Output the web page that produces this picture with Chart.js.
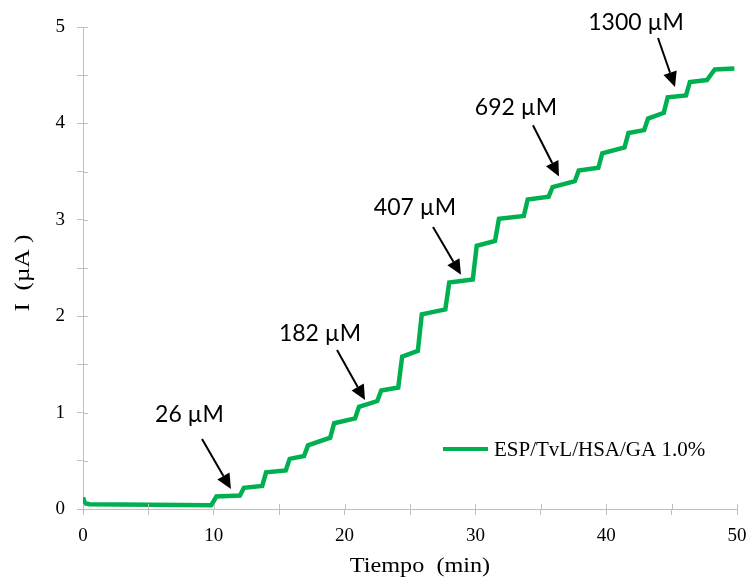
<!DOCTYPE html>
<html>
<head>
<meta charset="utf-8">
<script src="https://cdn.jsdelivr.net/npm/chart.js@4.4.1/dist/chart.umd.min.js"></script>
<style>
  html, body { margin: 0; padding: 0; background: #fff; }
  #wrap { width: 754px; height: 578px; }
</style>
</head>
<body>
<div id="wrap"><canvas id="myChart" width="754" height="578"></canvas></div>
<script>
/* data */
const seriesName = 'ESP/TvL/HSA/GA 1.0%';
const xTitle = 'Tiempo  (min)';
const yTitle = 'I  (µA )';
const timeMin = [0, 0.15, 0.5, 9.8, 10.2, 12.0, 12.3, 13.7, 14.0, 15.5, 15.8, 16.9, 17.2, 18.9, 19.2,
    20.8, 21.1, 22.5, 22.8, 24.1, 24.4, 25.6, 25.9, 27.7, 28.0, 29.8, 30.1, 31.5, 31.8, 33.7, 34.0,
    35.6, 35.9, 37.6, 37.9, 39.4, 39.7, 41.4, 41.7, 42.9, 43.2, 44.4, 44.7, 46.1, 46.4, 47.7, 48.3, 49.8];
const currentUA = [0.12, 0.06, 0.05, 0.04, 0.13, 0.14, 0.22, 0.24, 0.38, 0.40, 0.52, 0.55, 0.66, 0.74, 0.89,
    0.94, 1.06, 1.12, 1.23, 1.26, 1.58, 1.64, 2.02, 2.07, 2.35, 2.38, 2.73, 2.78, 3.01, 3.04, 3.21,
    3.24, 3.34, 3.40, 3.51, 3.54, 3.69, 3.75, 3.90, 3.93, 4.05, 4.11, 4.27, 4.29, 4.43, 4.45, 4.56, 4.57];
const noteLabels = ['26 µM', '182 µM', '407 µM', '692 µM', '1300 µM'];

// where the notes sit, in axis units: text centre, arrow tail, arrow tip
const notes = [
    { tx: 8.14, ty: 0.975, x0: 9.10, y0: 0.726, x1: 11.31, y1: 0.207 },
    { tx: 18.12, ty: 1.815, x0: 19.42, y0: 1.65, x1: 21.56, y1: 1.13 },
    { tx: 25.38, ty: 3.13, x0: 26.76, y0: 2.925, x1: 28.9, y1: 2.43 },
    { tx: 33.10, ty: 4.16, x0: 34.40, y0: 3.98, x1: 36.39, y1: 3.45 },
    { tx: 42.28, ty: 5.05, x0: 43.96, y0: 4.886, x1: 45.26, y1: 4.378 }
];

const green = '#00b050';
const axisGray = '#bfbfbf';
const serif = "'Liberation Serif', 'Times New Roman', serif";

const points = timeMin.map((t, i) => ({ x: t, y: currentUA[i] }));

// inner half of the cross ticks, axis titles, arrows and the in-plot legend
const extras = {
    id: 'extras',
    afterDraw(chart) {
        const c = chart.ctx;
        const xs = chart.scales.x, ys = chart.scales.y;
        const area = chart.chartArea;
        c.save();
        c.strokeStyle = axisGray;
        c.lineWidth = 1;
        xs.ticks.forEach(tk => {
            const px = Math.round(xs.getPixelForValue(tk.value)) + 0.5;
            c.beginPath(); c.moveTo(px, area.bottom); c.lineTo(px, area.bottom - 5); c.stroke();
        });
        ys.ticks.forEach(tk => {
            const py = Math.round(ys.getPixelForValue(tk.value)) + 0.5;
            c.beginPath(); c.moveTo(area.left, py); c.lineTo(area.left + 5, py); c.stroke();
        });

        // axis titles (the original type is a little stretched sideways)
        c.fillStyle = '#000';
        c.font = '22px ' + serif;
        c.textAlign = 'center';
        c.textBaseline = 'middle';
        c.save();
        c.translate(420, 566);
        c.scale(1.1, 1);
        c.fillText(xTitle, 0, 0);
        c.restore();
        c.save();
        c.translate(23, 273);
        c.rotate(-Math.PI / 2);
        c.scale(1.15, 1);
        c.fillText(yTitle, 0, 0);
        c.restore();

        // notes
        c.strokeStyle = '#000';
        c.font = "23px Lato, 'Open Sans', sans-serif";
        notes.forEach((n, i) => {
            c.fillText(noteLabels[i], xs.getPixelForValue(n.tx), ys.getPixelForValue(n.ty));
            const ax = xs.getPixelForValue(n.x0), ay = ys.getPixelForValue(n.y0);
            const bx = xs.getPixelForValue(n.x1), by = ys.getPixelForValue(n.y1);
            const ang = Math.atan2(by - ay, bx - ax);
            const head = 15, half = 7;
            const hx = bx - head * Math.cos(ang), hy = by - head * Math.sin(ang);
            c.lineWidth = 2;
            c.beginPath(); c.moveTo(ax, ay); c.lineTo(hx, hy); c.stroke();
            c.beginPath();
            c.moveTo(bx, by);
            c.lineTo(hx + half * Math.sin(ang), hy - half * Math.cos(ang));
            c.lineTo(hx - half * Math.sin(ang), hy + half * Math.cos(ang));
            c.closePath(); c.fill();
        });

        // legend
        c.strokeStyle = green;
        c.lineWidth = 4;
        c.beginPath(); c.moveTo(443, 449); c.lineTo(488, 449); c.stroke();
        c.font = '21px ' + serif;
        c.textAlign = 'left';
        c.fillText(chart.data.datasets[0].label, 494, 450);
        c.restore();
    }
};

const ctx = document.getElementById('myChart');
new Chart(ctx, {
    type: 'line',
    data: {
        datasets: [{
            label: seriesName,
            data: points,
            borderColor: green,
            backgroundColor: green,
            borderWidth: 4.5,
            pointRadius: 0,
            tension: 0
        }]
    },
    options: {
        responsive: false,
        animation: false,
        layout: { padding: { left: 0, top: 27, right: 17, bottom: 0 } },
        plugins: { legend: { display: false }, tooltip: { enabled: false } },
        scales: {
            x: {
                type: 'linear',
                min: 0, max: 50,
                afterFit: s => { s.height = 69; s.paddingLeft = 0; s.paddingRight = 0; },
                border: { color: axisGray, width: 1 },
                grid: { drawOnChartArea: false, tickLength: 6, color: axisGray },
                ticks: {
                    stepSize: 5, color: '#000', padding: 10,
                    font: { family: serif, size: 19 },
                    maxRotation: 0,
                    callback: v => (v % 10 === 0 ? v : '')
                }
            },
            y: {
                min: 0, max: 5,
                afterFit: s => { s.width = 83; s.paddingTop = 0; s.paddingBottom = 0; },
                border: { color: axisGray, width: 1 },
                grid: { drawOnChartArea: false, tickLength: 6, color: axisGray },
                ticks: {
                    stepSize: 0.5, color: '#000', padding: 12,
                    font: { family: serif, size: 19 },
                    callback: v => (Number.isInteger(v) ? v : '')
                }
            }
        }
    },
    plugins: [extras]
});
</script>
</body>
</html>
